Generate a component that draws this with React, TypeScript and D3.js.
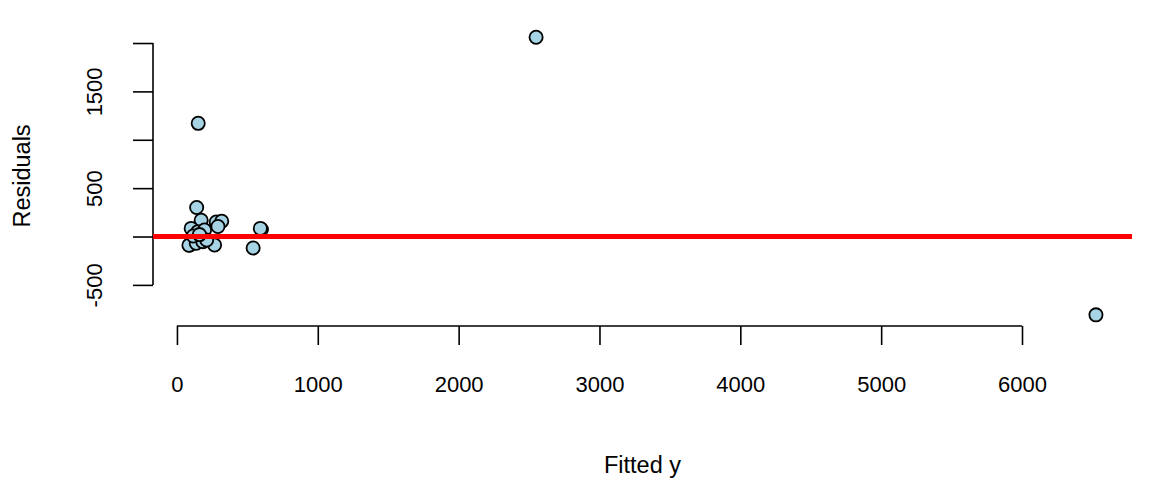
import { useEffect, useRef } from "react";
import * as d3 from "d3";

// fitted values and residuals
const fitted = [
  2550, 6525, 151, 140, 172, 279, 318, 291, 101, 149, 196, 600, 592, 541, 267,
  90, 95, 85, 137, 184, 116, 211, 160,
];
const residuals = [
  2060, -810, 1170, 300, 168, 150, 158, 103, 84, 50, 67, 72, 84, -118, -88,
  -88, -82, -90, -70, -53, 5, -36, 20,
];
const xTicks = [0, 1000, 2000, 3000, 4000, 5000, 6000];
const yTicks = [-500, 0, 500, 1000, 1500, 2000];
// R drops labels that would overlap
const yLabelled = [-500, 500, 1500];

const W = 1152;
const H = 480;

export default function App() {
  const ref = useRef<SVGSVGElement>(null);

  useEffect(() => {
    const svg = d3.select(ref.current);
    svg.selectAll("*").remove();
    const font = "'Liberation Sans', Arial, Helvetica, sans-serif";

    // plot region ~ R's usr with 4% padding
    const x = d3.scaleLinear().domain([-170, 6781]).range([153, 1132]);
    const y = d3.scaleLinear().domain([-925, 2176]).range([326, 26]);

    // x axis
    const gx = svg
      .append("g")
      .attr("transform", `translate(0,${y.range()[0]})`)
      .call(
        d3
          .axisBottom(x)
          .tickValues(xTicks)
          .tickFormat(d3.format("d"))
          .tickSize(19)
          .tickPadding(31)
          .tickSizeOuter(0),
      );
    gx.select(".domain").attr("d", `M${x(0)},0H${x(6000)}`);
    gx.selectAll("line, .domain").attr("stroke", "#000").attr("stroke-width", 1.6);
    gx.selectAll("text")
      .attr("font-family", font)
      .attr("font-size", 22)
      .attr("fill", "#000");

    // y axis
    const gy = svg
      .append("g")
      .attr("transform", `translate(${x.range()[0]},0)`)
      .call(
        d3
          .axisLeft(y)
          .tickValues(yTicks)
          .tickFormat((d) => (yLabelled.includes(+d) ? String(d) : ""))
          .tickSize(20)
          .tickSizeOuter(0),
      );
    gy.select(".domain").attr("d", `M0,${y(-500)}V${y(2000)}`);
    gy.selectAll("line, .domain").attr("stroke", "#000").attr("stroke-width", 1.6);
    gy.selectAll("text")
      .attr("font-family", font)
      .attr("font-size", 22)
      .attr("fill", "#000")
      .attr("x", 0)
      .attr("dy", 0)
      .attr("text-anchor", "middle")
      .attr("transform", "translate(-51,0) rotate(-90)");

    // points
    const pts = fitted.map((f, i) => [f, residuals[i]]);
    svg
      .append("g")
      .selectAll("circle")
      .data(pts)
      .join("circle")
      .attr("cx", (d) => x(d[0]))
      .attr("cy", (d) => y(d[1]))
      .attr("r", 6.6)
      .attr("fill", "#a6d4e4")
      .attr("stroke", "#000")
      .attr("stroke-width", 1.8);

    // zero line
    svg
      .append("line")
      .attr("x1", x.range()[0])
      .attr("x2", x.range()[1])
      .attr("y1", y(0))
      .attr("y2", y(0))
      .attr("stroke", "#ff0000")
      .attr("stroke-width", 5);

    // labels
    svg
      .append("text")
      .attr("x", (x.range()[0] + x.range()[1]) / 2)
      .attr("y", 473)
      .attr("text-anchor", "middle")
      .attr("font-family", font)
      .attr("font-size", 23.5)
      .text("Fitted y");
    svg
      .append("text")
      .attr("transform", `translate(30,${(y.range()[0] + y.range()[1]) / 2}) rotate(-90)`)
      .attr("text-anchor", "middle")
      .attr("font-family", font)
      .attr("font-size", 23.5)
      .text("Residuals");
  }, []);

  return (
    <svg
      ref={ref}
      width={W}
      height={H}
      style={{ position: "absolute", left: 0, top: 0, background: "#fff" }}
    />
  );
}
